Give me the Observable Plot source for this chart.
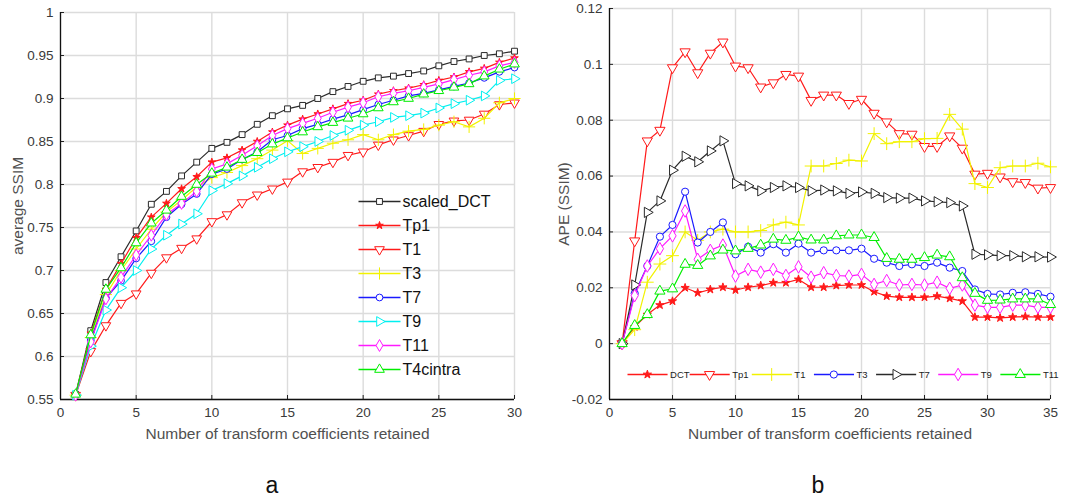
<!DOCTYPE html>
<html><head><meta charset="utf-8">
<script src="https://cdn.jsdelivr.net/npm/d3@7"></script>
<script src="https://cdn.jsdelivr.net/npm/@observablehq/plot@0.6"></script>
<style>
body{margin:0;background:#fff;font-family:"Liberation Sans",Arial,sans-serif;}
#wrap{position:relative;width:1083px;height:502px;overflow:hidden;background:#fff;}
#wrap svg{position:absolute;overflow:visible;}
.lab{position:absolute;font-size:23px;color:#111;transform:translate(-50%,-50%);}
</style></head><body><div id="wrap"></div>
<script>
// ---------- Panel a data ----------
const namesA = ["scaled_DCT","Tp1","T1","T3","T7","T9","T11","T4cintra"];
const scaledDCT_a = [0.556,0.630,0.686,0.716,0.746,0.777,0.792,0.810,0.826,0.842,0.849,0.858,0.870,0.880,0.888,0.892,0.900,0.908,0.914,0.920,0.924,0.926,0.929,0.932,0.938,0.943,0.946,0.950,0.952,0.955];
const Tp1_a = [0.555,0.627,0.678,0.708,0.738,0.762,0.778,0.795,0.809,0.826,0.831,0.840,0.850,0.861,0.869,0.876,0.882,0.888,0.894,0.898,0.905,0.909,0.912,0.916,0.921,0.925,0.931,0.935,0.942,0.947];
const T1_a = [0.555,0.606,0.636,0.662,0.673,0.697,0.715,0.726,0.737,0.757,0.765,0.779,0.788,0.795,0.803,0.815,0.820,0.826,0.834,0.838,0.846,0.852,0.857,0.862,0.870,0.874,0.875,0.882,0.893,0.895];
const T3_a = [0.555,0.622,0.672,0.700,0.725,0.748,0.768,0.782,0.797,0.808,0.814,0.822,0.830,0.840,0.851,0.836,0.842,0.848,0.852,0.858,0.852,0.858,0.862,0.864,0.869,0.873,0.867,0.877,0.895,0.900];
const T7_a = [0.555,0.619,0.668,0.688,0.714,0.734,0.762,0.777,0.789,0.812,0.818,0.829,0.838,0.852,0.857,0.865,0.870,0.876,0.881,0.887,0.893,0.898,0.903,0.906,0.910,0.914,0.918,0.924,0.931,0.936];
const T9_a = [0.555,0.612,0.654,0.680,0.700,0.725,0.741,0.754,0.766,0.793,0.801,0.810,0.820,0.830,0.838,0.844,0.850,0.857,0.863,0.869,0.873,0.878,0.880,0.883,0.889,0.894,0.898,0.903,0.921,0.923];
const T11_a = [0.555,0.617,0.667,0.692,0.718,0.741,0.765,0.778,0.792,0.818,0.824,0.834,0.845,0.857,0.865,0.871,0.877,0.884,0.890,0.895,0.902,0.906,0.909,0.913,0.917,0.922,0.927,0.931,0.938,0.942];
const T4cintra_a = [0.556,0.625,0.678,0.703,0.732,0.755,0.770,0.786,0.800,0.813,0.820,0.829,0.837,0.847,0.854,0.861,0.867,0.872,0.877,0.882,0.889,0.896,0.900,0.905,0.909,0.913,0.917,0.926,0.934,0.940];
const xTicksA = [0,5,10,15,20,25,30];
const yTicksA = [0.55,0.6,0.65,0.7,0.75,0.8,0.85,0.9,0.95,1];

// ---------- Panel b data ----------
const namesB = ["DCT","Tp1","T1","T3","T7","T9","T11"];
const DCT_b = [0,0.006,0.0104,0.0138,0.0152,0.020,0.0182,0.0194,0.0202,0.0192,0.0202,0.0208,0.0218,0.0218,0.023,0.0202,0.0202,0.0208,0.021,0.021,0.0186,0.017,0.0166,0.0166,0.0166,0.017,0.0162,0.0152,0.0095,0.0095,0.0092,0.0095,0.0097,0.0095,0.0095];
const Tp1_b = [0,0.0368,0.0726,0.0764,0.0988,0.1045,0.097,0.104,0.108,0.0994,0.0988,0.0919,0.0934,0.0964,0.0958,0.0871,0.089,0.089,0.086,0.0875,0.0825,0.0794,0.0752,0.075,0.0706,0.0706,0.0744,0.070,0.0607,0.061,0.0597,0.058,0.0577,0.0557,0.0559];
const T1_b = [0,0.005,0.022,0.0285,0.0315,0.040,0.037,0.040,0.041,0.040,0.040,0.0405,0.0425,0.0435,0.0425,0.0636,0.0636,0.0645,0.0657,0.0654,0.0752,0.0716,0.0723,0.0723,0.0734,0.0735,0.0821,0.0768,0.0573,0.0559,0.063,0.0636,0.0636,0.0646,0.0633];
const T3_b = [0,0.018,0.0278,0.0383,0.0425,0.0544,0.0362,0.040,0.0434,0.032,0.0347,0.0326,0.0356,0.0326,0.0358,0.0326,0.0334,0.0334,0.0334,0.034,0.0304,0.029,0.0278,0.0284,0.0278,0.029,0.0272,0.026,0.0194,0.0178,0.0176,0.0182,0.0184,0.0178,0.0168];
const T7_b = [0,0.021,0.047,0.0511,0.0621,0.0671,0.0651,0.069,0.0726,0.0573,0.0565,0.0547,0.0559,0.0565,0.0559,0.0547,0.055,0.0547,0.0538,0.0543,0.0538,0.0523,0.0521,0.0521,0.0511,0.0508,0.0505,0.0493,0.032,0.0318,0.0315,0.0315,0.0311,0.0311,0.031];
const T9_b = [0,0.0172,0.0278,0.034,0.0386,0.0475,0.0302,0.0334,0.0353,0.0242,0.0266,0.0256,0.0266,0.0244,0.0275,0.0238,0.0254,0.0244,0.0242,0.0248,0.0212,0.0226,0.021,0.0212,0.021,0.022,0.0198,0.021,0.0138,0.013,0.013,0.0138,0.0138,0.013,0.013];
const T11_b = [0,0.0065,0.0104,0.0188,0.0196,0.0284,0.028,0.0314,0.0335,0.0332,0.0341,0.0353,0.0374,0.037,0.0382,0.0371,0.0371,0.0386,0.0389,0.0389,0.038,0.0305,0.0302,0.0302,0.0308,0.0317,0.0311,0.0236,0.018,0.0155,0.0156,0.016,0.016,0.016,0.014];
const xTicksB = [0,5,10,15,20,25,30,35];
const yTicksB = [-0.02,0,0.02,0.04,0.06,0.08,0.1,0.12];

// ---------- styles ----------
const RED="#ff1a1a", YEL="#f2f200", BLU="#1a1aff", CYA="#00f0f0", MAG="#ff1aff", GRN="#00ee00", BLK="#2a2a2a";
const styleA = [
  {c:BLK,s:"square",rot:0,f:"white",r:3.3},
  {c:RED,s:"star",rot:0,f:RED,r:2.4},
  {c:RED,s:"triangle",rot:180,f:"white",r:3.6},
  {c:YEL,s:"plus",rot:0,f:"none",r:4},
  {c:BLU,s:"circle",rot:0,f:"white",r:3.4},
  {c:CYA,s:"triangle",rot:90,f:"white",r:3.6},
  {c:MAG,s:"diamond",rot:0,f:"white",r:3.6},
  {c:GRN,s:"triangle",rot:0,f:"white",r:3.6}
];
const styleB = [
  {c:RED,s:"star",rot:0,f:RED,r:2.6},
  {c:RED,s:"triangle",rot:180,f:"white",r:3.8},
  {c:YEL,s:"plus",rot:0,f:"none",r:4.2},
  {c:BLU,s:"circle",rot:0,f:"white",r:3.6},
  {c:BLK,s:"triangle",rot:90,f:"white",r:3.8},
  {c:MAG,s:"diamond",rot:0,f:"white",r:3.8},
  {c:GRN,s:"triangle",rot:0,f:"white",r:3.8}
];

const seriesA = [scaledDCT_a,Tp1_a,T1_a,T3_a,T7_a,T9_a,T11_a,T4cintra_a];
const seriesB = [DCT_b,Tp1_b,T1_b,T3_b,T7_b,T9_b,T11_b];

const FONT = '"Liberation Sans", Arial, sans-serif';
const fmt = d => String(+d.toFixed(2));

function seriesMarks(series, styles) {
  const marks = [];
  series.forEach((arr, k) => {
    const st = styles[k];
    const rows = arr.map((v, i) => ({x: i + 1, y: v}));
    marks.push(Plot.line(rows, {x: "x", y: "y", stroke: st.c, strokeWidth: 1.2}));
    marks.push(Plot.dot(rows, {x: "x", y: "y", symbol: st.s, rotate: st.rot, r: st.r,
      stroke: st.c, fill: st.f, strokeWidth: 1}));
  });
  return marks;
}

function panel(opts) {
  const plotW = opts.width - opts.ml - opts.mr, plotH = 450 - opts.mt - 51;
  const dx = (opts.xd[1] - opts.xd[0]) * 4 / plotW;   // 4px inward tick length
  const dy = (opts.yd[1] - opts.yd[0]) * 4 / plotH;
  return Plot.plot({
    width: opts.width, height: 450,
    marginLeft: opts.ml, marginRight: opts.mr, marginTop: opts.mt, marginBottom: 51,
    x: {domain: opts.xd, ticks: opts.xt},
    y: {domain: opts.yd, ticks: opts.yt},
    style: {fontFamily: FONT, fontSize: "13px", color: "#3a3a3a", background: "transparent"},
    marks: [
      Plot.gridX(opts.xt, {stroke: "#dcdcdc", strokeOpacity: 1, strokeWidth: 1.4}),
      Plot.gridY(opts.yt, {stroke: "#dcdcdc", strokeOpacity: 1, strokeWidth: 1.4}),
      Plot.axisX(opts.xt, {tickSize: 0, tickPadding: 8, tickFormat: fmt, fill: "#3a3a3a", fontSize: 13.5,
        label: null}),
      Plot.axisY(opts.yt, {tickSize: 0, tickPadding: 7, tickFormat: fmt, fill: "#3a3a3a", fontSize: 13.5,
        label: null}),
      Plot.axisX(opts.xt, {tickSize: 0, text: null, fontSize: 15.5, fill: "#505050",
        label: "Number of transform coefficients retained", labelAnchor: "center", labelArrow: "none",
        labelOffset: 39}),
      Plot.axisY(opts.yt, {tickSize: 0, text: null, fontSize: 15.5, fill: "#505050",
        label: opts.ylabel, labelAnchor: "center", labelArrow: "none", labelOffset: opts.ylo}),
      Plot.ruleX(opts.xt, {y1: opts.yd[0], y2: opts.yd[0] + dy, stroke: "#222", strokeWidth: 1}),
      Plot.ruleY(opts.yt, {x1: opts.xd[0], x2: opts.xd[0] + dx, stroke: "#222", strokeWidth: 1}),
      Plot.ruleX([opts.xd[0]], {stroke: "#111", strokeWidth: 1.3}),
      Plot.ruleY([opts.yd[0]], {stroke: "#111", strokeWidth: 1.3}),
      ...seriesMarks(opts.series, opts.styles)
    ]
  });
}

const wrap = document.getElementById("wrap");

const pa = panel({width: 540, ml: 60, mr: 26, mt: 12, xd: [0, 30], yd: [0.55, 1], xt: xTicksA, yt: yTicksA,
  ylabel: "average SSIM", ylo: 49, series: seriesA, styles: styleA});
pa.style.left = "0px"; pa.style.top = "0px";
wrap.appendChild(pa);

const pb = panel({width: 543, ml: 69, mr: 33, mt: 8, xd: [0, 35], yd: [-0.02, 0.12], xt: xTicksB, yt: yTicksB,
  ylabel: "APE (SSIM)", ylo: 52, series: seriesB, styles: styleB});
pb.style.left = "540px"; pb.style.top = "0px";
wrap.appendChild(pb);

// ---------- Legend a (vertical) ----------
const legA = namesA.map((n, i) => ({name: n, i}));
const la = Plot.plot({
  width: 170, height: 200, marginLeft: 8, marginRight: 120, marginTop: 16, marginBottom: 16,
  x: {domain: [0, 1], axis: null}, y: {domain: [0, 7], reverse: true, axis: null},
  style: {fontFamily: FONT, background: "transparent"},
  marks: [
    Plot.link(legA, {x1: 0, x2: 1, y1: "i", y2: "i", stroke: d => styleA[d.i].c, strokeWidth: 1.3}),
    ...legA.map(d => Plot.dot([d], {x: 0.5, y: "i", symbol: styleA[d.i].s, rotate: styleA[d.i].rot,
      r: styleA[d.i].r, stroke: styleA[d.i].c, fill: styleA[d.i].f, strokeWidth: 1})),
    Plot.text(legA, {x: 1, y: "i", text: "name", textAnchor: "start", dx: 2, fontSize: 16, fill: "#111"})
  ]
});
la.style.left = "350px"; la.style.top = "185px";
wrap.appendChild(la);

// ---------- Legend b (horizontal) ----------
const legB = namesB.map((n, i) => ({name: n, i}));
const lb = Plot.plot({
  width: 483, height: 30, marginLeft: 27, marginRight: 21, marginTop: 0, marginBottom: 0,
  x: {domain: [0, 7], axis: null}, y: {domain: [-1, 1], axis: null},
  style: {fontFamily: FONT, background: "transparent"},
  marks: [
    Plot.link(legB, {x1: "i", x2: d => d.i + 0.645, y1: 0, y2: 0, stroke: d => styleB[d.i].c, strokeWidth: 1.3}),
    ...legB.map(d => Plot.dot([d], {x: d.i + 0.32, y: 0, symbol: styleB[d.i].s, rotate: styleB[d.i].rot,
      r: styleB[d.i].r, stroke: styleB[d.i].c, fill: styleB[d.i].f, strokeWidth: 1})),
    Plot.text(legB, {x: d => d.i + 0.685, y: 0, text: "name", textAnchor: "start", fontSize: 9.5, fill: "#222"})
  ]
});
lb.style.left = "600px"; lb.style.top = "359px";
wrap.appendChild(lb);

// panel letters
for (const [t, x] of [["a", 272], ["b", 818]]) {
  const d = document.createElement("div");
  d.className = "lab"; d.textContent = t; d.style.left = x + "px"; d.style.top = "485px";
  wrap.appendChild(d);
}
</script></body></html>
